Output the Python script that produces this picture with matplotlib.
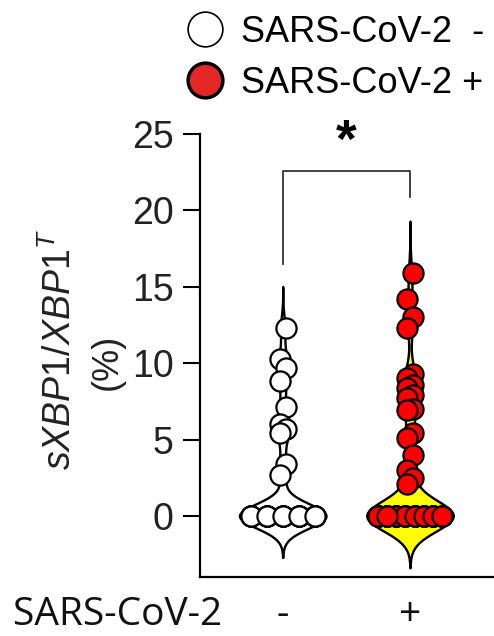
import numpy as np
import matplotlib.pyplot as plt
from matplotlib.lines import Line2D
from matplotlib.transforms import blended_transform_factory

plt.rcParams['font.family'] = 'Liberation Sans'
plt.rcParams['mathtext.fontset'] = 'custom'
plt.rcParams['mathtext.it'] = 'Liberation Sans:italic'
plt.rcParams['mathtext.rm'] = 'Liberation Sans'

# data (% sXBP1 / XBP1 total)
groups = ['-', '+']
neg = [12.3, 10.3, 9.7, 8.8, 7.1, 6.0, 5.7, 5.4, 3.4, 2.7,
       0.0, 0.0, 0.0, 0.0, 0.0, 0.0, 0.0, 0.0, 0.0, 0.0,
       0.0, 0.0, 0.0, 0.0, 0.0, 0.0, 0.0, 0.0, 0.0, 0.0]
pos = [15.9, 14.2, 13.0, 12.3, 9.3, 9.0, 8.6, 8.4, 7.9, 7.7, 7.0, 6.9,
       5.4, 5.1, 4.0, 3.0, 2.5, 2.1,
       0.0, 0.0, 0.0, 0.0, 0.0, 0.0, 0.0, 0.0, 0.0, 0.0,
       0.0, 0.0, 0.0, 0.0, 0.0, 0.0, 0.0, 0.0, 0.0, 0.0,
       0.0, 0.0, 0.0, 0.0, 0.0, 0.0, 0.0, 0.0, 0.0, 0.0,
       0.0, 0.0, 0.0, 0.0]
legend_labels = ['SARS-CoV-2  -', 'SARS-CoV-2 +']
bracket = [16.5, 22.6, 20.9]  # left leg end, top, right leg end

bws = [0.8, 1.0]
slots = [5, 8]
fills = ['white', '#ffff00']
dots = ['white', '#ff0000']


def kde(vals, bw, cut=3.4):
    v = np.asarray(vals)
    y = np.linspace(v.min() - cut*bw, v.max() + cut*bw, 500)
    d = np.exp(-0.5*((y[:, None] - v[None, :])/bw)**2).sum(1)
    return y, d/d.max()


def spread(vals, nslot, half=0.25):
    # zeros share a few side-by-side slots, the rest sit on the centre line
    v = np.asarray(vals)
    off = np.zeros(len(v))
    z = np.where(v < 0.5)[0]
    pos_ = np.linspace(-half, half, nslot)
    off[z] = pos_[np.arange(len(z)) % nslot]
    r = np.where(v >= 0.5)[0]
    off[r] = 0.025*(-1)**np.arange(len(r))
    return off


fig = plt.figure(figsize=(4.94, 6.36), dpi=100)
ax = fig.add_axes([200/494, 1-577/636, 294/494, 443/636])

for i, vals in enumerate([neg, pos]):
    y, d = kde(vals, bws[i])
    ax.fill_betweenx(y, i - d*0.34, i + d*0.34, facecolor=fills[i],
                     edgecolor='black', lw=1.7, zorder=1)
    ax.scatter(i + spread(vals, slots[i]), vals, s=14.5**2,
               facecolor=dots[i], edgecolor='black', linewidth=1.6,
               zorder=3, clip_on=False)

# significance bracket
ax.plot([0, 0, 1, 1], [bracket[0], bracket[1], bracket[1], bracket[2]],
        color='#333333', lw=1.3)
ax.text(0.5, 24.4, '*', ha='center', va='center', fontsize=38,
        fontweight='bold')

ax.set_xlim(-0.65, 1.66)
ax.set_ylim(-4, 25)
ax.set_yticks([0, 5, 10, 15, 20, 25])
ax.tick_params(axis='y', labelsize=27, length=12, width=1.5, pad=7,
               colors='black', labelcolor='#222222')
ax.set_xticks([])
for s in ['top', 'right']:
    ax.spines[s].set_visible(False)
for s in ['left', 'bottom']:
    ax.spines[s].set_linewidth(1.6)

# x labels: group signs under the violins plus the row title
tr = blended_transform_factory(ax.transData, fig.transFigure)
for i, g in enumerate(groups):
    ax.text(i, 1-625/636, g, transform=tr, ha='center', va='baseline',
            fontfamily='Open Sans', fontsize=28, color='#111111')
fig.text(13/494, 1-625/636, 'SARS-CoV-2', fontfamily='Open Sans',
         fontsize=28, va='baseline', ha='left', color='#111111')

fig.text(60/494, 1-350/636, r'$\mathit{sXBP1/XBP1}^{\mathit{T}}$',
         rotation=90, ha='center', va='center', fontsize=27,
         color='#222222')
fig.text(107/494, 1-362/636, '(%)', rotation=90, ha='center', va='center',
         fontsize=26, color='#222222')

handles = [Line2D([], [], ls='', marker='o', ms=25, mfc='white',
                  mec='black', mew=1.2),
           Line2D([], [], ls='', marker='o', ms=25, mfc='#e32626',
                  mec='black', mew=2.5)]
fig.legend(handles, legend_labels, loc='upper left',
           bbox_to_anchor=(180/494, 1-11/636), frameon=False, fontsize=26,
           handlelength=1.2, handletextpad=0.4, labelspacing=0.45,
           borderpad=0.1, borderaxespad=0)

fig.savefig('out.png', dpi=100)
